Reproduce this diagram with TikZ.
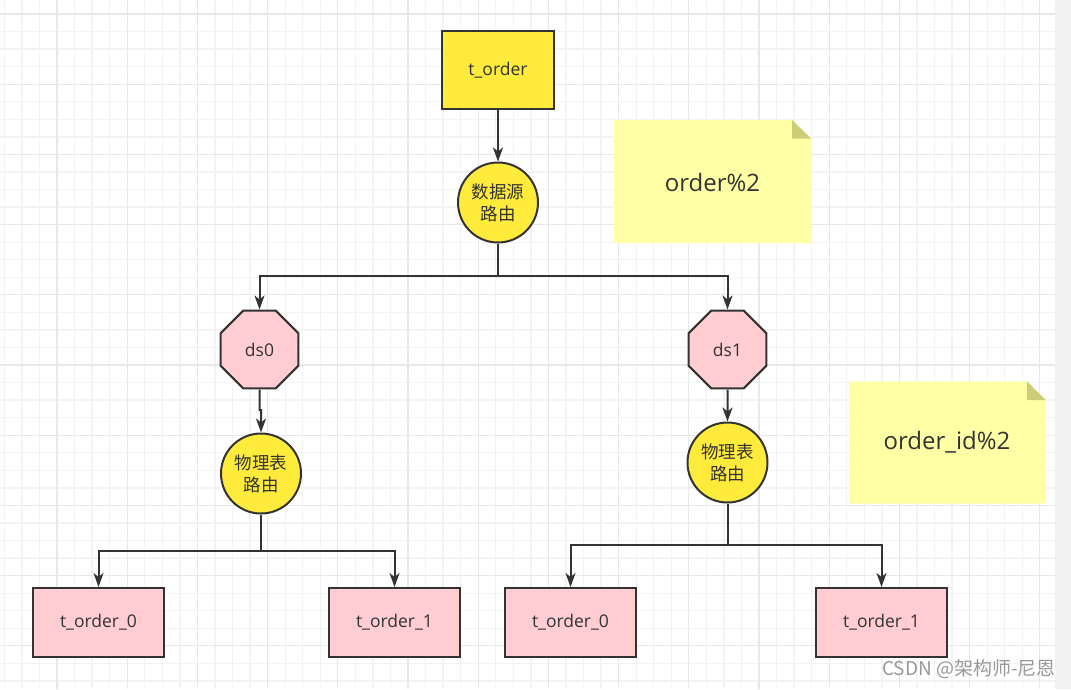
\documentclass[tikz,border=0pt]{standalone}
\usepackage{fontspec}
\setmainfont{Open Sans}
\newfontfamily\cjk{Noto Sans CJK SC}
\usetikzlibrary{shapes.geometric,arrows.meta,calc}
\definecolor{gridminor}{HTML}{F3F3F3}
\definecolor{gridmajor}{HTML}{E8E8E8}
\definecolor{strip}{HTML}{F1F1F1}
\definecolor{ink}{HTML}{333333}
\definecolor{yel}{HTML}{FFEB3B}
\definecolor{pinkf}{HTML}{FFCDD2}
\definecolor{notef}{HTML}{FFFFA6}
\definecolor{foldf}{HTML}{CDCD77}
\definecolor{wm}{HTML}{999999}
\tikzset{
  box/.style={draw=ink, line width=2pt, rectangle, inner sep=0pt, text=ink, font=\fontsize{17.5}{21}\selectfont},
  topbox/.style={box, fill=yel, minimum width=112pt, minimum height=78pt},
  leafbox/.style={box, fill=pinkf, minimum width=131pt, minimum height=69pt},
  router/.style={draw=ink, line width=2pt, circle, fill=yel, inner sep=0pt, minimum size=80pt, text=ink, align=center, font=\cjk\fontsize{17.5}{22}\selectfont},
  dsnode/.style={draw=ink, line width=2pt, regular polygon, regular polygon sides=8, fill=pinkf, inner sep=0pt, minimum size=84.4pt, text=ink, font=\fontsize{17.5}{21}\selectfont},
  conn/.style={draw=ink, line width=2pt},
  arr/.style={conn, -{Stealth[length=14pt, width=10pt, inset=4pt]}},
  notetext/.style={text=ink, font=\fontsize{24}{28}\selectfont},
}
\begin{document}
\begin{tikzpicture}[x=1pt, y=-1pt]
\useasboundingbox (0,0) rectangle (1071,689);
\fill[white] (0,0) rectangle (1071,689);
% grid
\begin{scope}
\clip (0,0) rectangle (1055,689);
\foreach \i in {0,...,60} {\draw[gridminor, line width=1.3pt] ({4.35+17.55*\i},0) -- ({4.35+17.55*\i},689);}
\foreach \i in {0,...,40} {\draw[gridminor, line width=1.3pt] (0,{-3.55+17.55*\i}) -- (1055,{-3.55+17.55*\i});}
\foreach \i in {0,...,15} {\draw[gridmajor, line width=1.3pt] ({-13.2+70.2*\i},0) -- ({-13.2+70.2*\i},689);}
\foreach \i in {0,...,10} {\draw[gridmajor, line width=1.3pt] (0,{14+70.2*\i}) -- (1055,{14+70.2*\i});}
\end{scope}
\fill[strip] (1055,0) rectangle (1071,689);

% notes
\fill[notef] (614,120) -- (792,120) -- (811,138.5) -- (811,243) -- (614,243) -- cycle;
\fill[foldf] (792,120) -- (792,138.5) -- (811,138.5) -- cycle;
\node[notetext] (n1) at (712.5,182) {order\%2};
\fill[notef] (849,381.5) -- (1027,381.5) -- (1045.5,400) -- (1045.5,503.5) -- (849,503.5) -- cycle;
\fill[foldf] (1027,381.5) -- (1027,400) -- (1045.5,400) -- cycle;
\node[notetext] (n2) at (947,442.5) {order\_id\%2};

% nodes
\node[topbox] (top) at (498,70) {t\_order};
\node[router] (r1) at (498,202.5) {数据源\\路由};
\node[dsnode] (ds0) at (259.5,349.5) {ds0};
\node[dsnode] (ds1) at (727.5,349.5) {ds1};
\node[router] (c0) at (261,473.5) {物理表\\路由};
\node[router] (c1) at (727.5,462.5) {物理表\\路由};
\node[leafbox] (l0) at (98.5,622.5) {t\_order\_0};
\node[leafbox] (l1) at (394.5,622.5) {t\_order\_1};
\node[leafbox] (l2) at (570.5,622.5) {t\_order\_0};
\node[leafbox] (l3) at (881.5,622.5) {t\_order\_1};

% connectors
\coordinate (j1) at (498,275.5);
\coordinate (j2) at (259.5,410);
\coordinate (j3) at (261,550.5);
\coordinate (j4) at (727.5,544.5);
\draw[arr] (top) -- (r1);
\draw[conn] (r1.south) -- (j1);
\draw[arr] (j1) -| (ds0.north);
\draw[arr] (j1) -| (ds1.north);
\draw[arr] (ds0.south) -- (j2) -| (c0.north);
\draw[arr] (ds1.south) -- (c1.north);
\draw[conn] (c0.south) -- (j3);
\draw[arr] (j3) -| (l0.north);
\draw[arr] (j3) -| (l1.north);
\draw[conn] (c1.south) -- (j4);
\draw[arr] (j4) -| (l2.north);
\draw[arr] (j4) -| (l3.north);

% watermark
\node[anchor=east, text=wm, inner sep=0pt, font=\cjk\fontsize{19}{22}\selectfont] (wmk) at (1056,669) {CSDN @架构师-尼恩};
\end{tikzpicture}
\end{document}
